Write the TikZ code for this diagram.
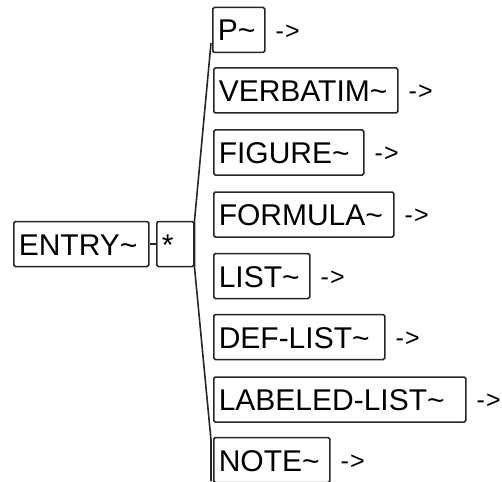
\documentclass[tikz,border=0pt]{standalone}
\usepackage{fontspec}
\setmainfont{Liberation Sans}
\begin{document}
\begin{tikzpicture}[x=1pt,y=-1pt,
  kw/.style={draw=black!85, line width=1.5pt, rounded corners=1.5pt, anchor=west,
    inner xsep=5pt, inner ysep=0pt, minimum height=45pt,
    font=\fontsize{30}{30}\selectfont, text height=22pt, text depth=0pt, align=left},
  more/.style={anchor=west, inner sep=0pt, font=\fontsize{25}{25}\selectfont},
  link/.style={draw=black!85, line width=1.6pt}]
\useasboundingbox (0,0) rectangle (502,481);
\node[kw, text width=125pt] (entry) at (13,244) {ENTRY\char`~};
\node[kw, text width=27pt] (star) at (156,244) {*};
\node[kw, text width=42pt] (p) at (212,30) {P\char`~};
\node[kw, text width=174pt] (verbatim) at (213,90.5) {VERBATIM\char`~};
\node[kw, text width=140pt] (figure) at (213,152.5) {FIGURE\char`~};
\node[kw, text width=170pt] (formula) at (213,214.5) {FORMULA\char`~};
\node[kw, text width=86pt] (list) at (213,276) {LIST\char`~};
\node[kw, text width=161pt] (deflist) at (213,337) {DEF-LIST\char`~};
\node[kw, text width=242pt] (labeled) at (213,399.5) {LABELED-LIST\char`~};
\node[kw, text width=106pt] (note) at (213,460) {NOTE\char`~};
\foreach \n in {p,verbatim,figure,formula,list,deflist,labeled,note}
  \node[more] (a\n) at ([xshift=10pt,yshift=-2pt]\n.east) {-\kern1pt>};
\coordinate (btop) at (211,43);
\coordinate (bmid) at (211,440);
\coordinate (bbot) at (211,481);
\draw[link] (entry.east) -- (star.west);
\draw[link] (btop) -- (star.north east) -- (star.south east) -- (bmid) -- (bbot);
\end{tikzpicture}
\end{document}
